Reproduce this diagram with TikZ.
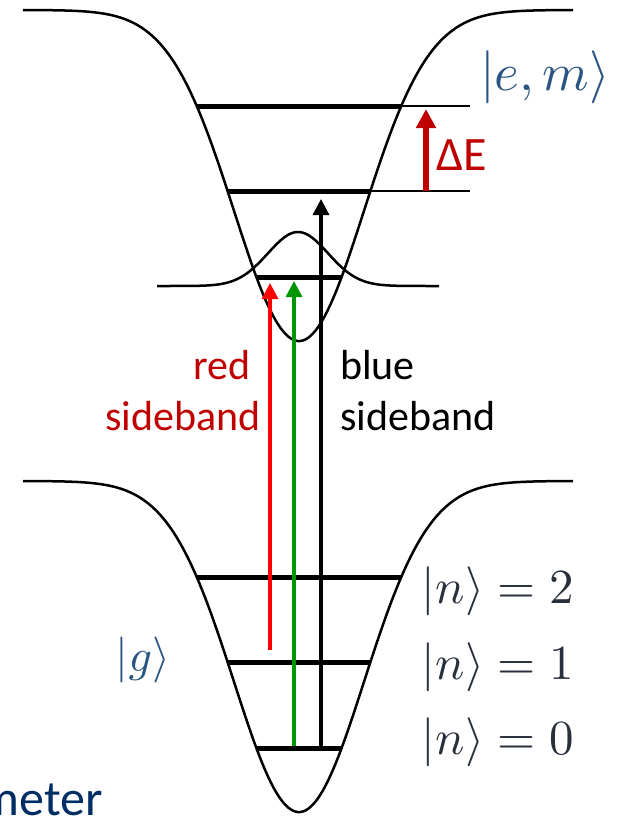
\documentclass[tikz,border=0pt]{standalone}
\usepackage[no-math]{fontspec}
\setmainfont{Carlito}
\usetikzlibrary{arrows.meta}
\definecolor{dred}{RGB}{192,0,0}
\definecolor{kgreen}{RGB}{0,150,0}
\definecolor{ketblue}{RGB}{40,85,130}
\definecolor{ketgray}{RGB}{40,48,60}
\definecolor{navytext}{RGB}{0,45,100}
\begin{document}
\begin{tikzpicture}[x=1pt,y=-1pt,
  well/.style={line width=2.5pt, line join=round},
  lvl/.style={line width=5pt},
  thinlvl/.style={line width=2pt},
  beam/.style={line width=3.3pt, -{Triangle[length=16pt,width=16pt]}},
  sidetext/.style={font=\fontsize{42}{50}\selectfont, inner sep=0pt},
  ketnode/.style={inner sep=0pt, anchor=base west, font=\fontsize{10}{12}\selectfont}]
\useasboundingbox (0,0) rectangle (616,822);
% upper well
\draw[well] plot[domain=23:573,samples=221,smooth] (\x,{10+331*exp(-((\x-299)/91.924)^2)});
% lower well
\draw[well] plot[domain=23:573,samples=221,smooth] (\x,{481+331*exp(-((\x-299)/91.924)^2)});
% wavepacket
\draw[well] plot[domain=157:439,samples=121,smooth] (\x,{286-54*exp(-((\x-298)/42.43)^2)});
% levels, upper
\draw[lvl] (196.7,106) -- (401.3,106);
\draw[lvl] (227.6,191) -- (370.4,191);
\draw[lvl] (256.4,277) -- (341.6,277);
\draw[thinlvl] (401.3,106) -- (470,106);
\draw[thinlvl] (370.4,191) -- (470,191);
% levels, lower
\draw[lvl] (196.7,577) -- (401.3,577);
\draw[lvl] (227.6,662) -- (370.4,662);
\draw[lvl] (256.4,748) -- (341.6,748);
% arrow end points
\coordinate (bk0) at (321,746);
\coordinate (bk1) at (321,199);
\coordinate (gr0) at (294,746);
\coordinate (gr1) at (294,281);
\coordinate (rd0) at (270,650);
\coordinate (rd1) at (270,283);
\coordinate (de0) at (426,191);
\coordinate (de1) at (426,109);
\draw[beam] (bk0) -- (bk1);
\draw[beam, kgreen] (gr0) -- (gr1);
\draw[beam, red] (rd0) -- (rd1);
\draw[line width=6pt, dred, -{Triangle[length=19pt,width=19pt]}] (de0) -- (de1);
% texts
\node[sidetext, text=dred, anchor=base east] (red1) at (251,379) {red};
\node[sidetext, text=dred, anchor=base east] (red2) at (261,430) {sideband};
\node[sidetext, anchor=base west] (blue1) at (340,379) {blue};
\node[sidetext, anchor=base west] (blue2) at (340,430) {sideband};
\node[inner sep=0pt, anchor=base west, text=dred, font=\fontsize{48}{56}\selectfont] (dE) at (436,170) {ΔE};
\node[ketnode, text=ketblue, scale=5.3] (em) at (479,90) {$|e,m\rangle$};
\node[ketnode, text=ketblue, scale=4.6] (g) at (115,671) {$|g\rangle$};
\node[ketnode, text=ketgray, scale=4.9] (n2) at (421,603) {$|n\rangle = 2$};
\node[ketnode, text=ketgray, scale=4.9] (n1) at (421,679) {$|n\rangle = 1$};
\node[ketnode, text=ketgray, scale=4.9] (n0) at (421,754) {$|n\rangle = 0$};
\begin{scope}
\clip (0,0) rectangle (616,822);
\node[inner sep=0pt, anchor=base east, text=navytext, font=\fontsize{50}{58}\selectfont] (meter) at (103,815) {meter};
\end{scope}
\end{tikzpicture}
\end{document}
